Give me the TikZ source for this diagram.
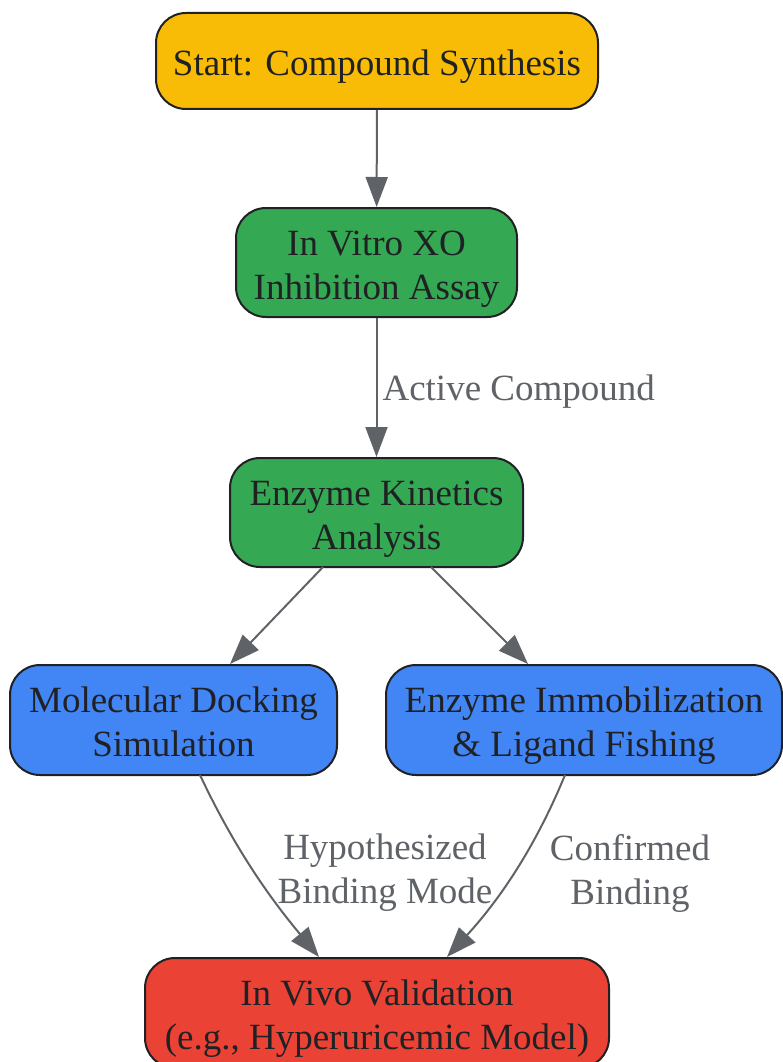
\documentclass[tikz,border=0pt]{standalone}
\usepackage{fontspec}
\setmainfont{Liberation Serif}
\usetikzlibrary{arrows.meta}
\definecolor{cyellow}{HTML}{F9BC06}
\definecolor{cgreen}{HTML}{34A853}
\definecolor{cblue}{HTML}{4285F4}
\definecolor{cred}{HTML}{EA4335}
\definecolor{cedge}{HTML}{5F6368}
\definecolor{ctext}{HTML}{202124}
\newcommand\bxtext[1]{\raisebox{-6pt}[\height][\depth]{\begin{tabular}{@{}c@{}}#1\end{tabular}}}
\tikzset{
  box/.style={draw=ctext, line width=2pt, rounded corners=30pt, align=center,
    text=ctext, font=\fontsize{37}{44}\selectfont, inner sep=0pt},
  conn/.style={draw=cedge, line width=2pt, -{Triangle[length=30pt,width=22pt]}},
  lbl/.style={text=cedge, font=\fontsize{37}{44}\selectfont, align=center}
}
\begin{document}
\begin{tikzpicture}[x=1pt,y=-1pt]
\useasboundingbox (0,0) rectangle (782,1062);
\node[box, fill=cyellow, minimum width=442pt, minimum height=96pt] (start) at (377,61) {\bxtext{Start: Compound Synthesis}};
\node[box, fill=cgreen, minimum width=281pt, minimum height=109pt] (vitro) at (376.5,262.5) {\bxtext{In Vitro XO\\Inhibition Assay}};
\node[box, fill=cgreen, minimum width=293pt, minimum height=109pt] (kin) at (376.5,512.5) {\bxtext{Enzyme Kinetics\\Analysis}};
\node[box, fill=cblue, minimum width=327pt, minimum height=110pt] (dock) at (173.5,720) {\bxtext{Molecular Docking\\Simulation}};
\node[box, fill=cblue, minimum width=396pt, minimum height=110pt] (imm) at (584,720) {\bxtext{Enzyme Immobilization\\\& Ligand Fishing}};
\node[box, fill=cred, minimum width=464pt, minimum height=110pt] (vivo) at (377,1013) {\bxtext{In Vivo Validation\\(e.g., Hyperuricemic Model)}};
\coordinate (k1) at (323,567);
\coordinate (k2) at (431,567);
\coordinate (d1) at (200,775);
\coordinate (i1) at (565,775);
\draw[conn] (start) -- (vitro);
\draw[conn] (vitro) -- (kin);
\draw[conn] (k1) -- (dock.north -| 230,0);
\draw[conn] (k2) -- (imm.north -| 528,0);
\draw[conn] (d1) .. controls (240,860) and (280,910) .. (vivo.north -| 319,0);
\draw[conn] (i1) .. controls (530,860) and (490,910) .. (vivo.north -| 447,0);
\node[lbl, anchor=west] (l1) at (379,392) {Active Compound};
\node[lbl] (l2) at (385,873) {Hypothesized\\Binding Mode};
\node[lbl] (l3) at (630,873) {Confirmed\\Binding};
\end{tikzpicture}
\end{document}
